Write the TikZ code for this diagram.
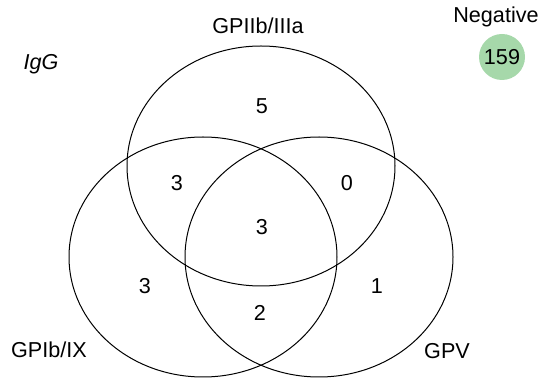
\documentclass[tikz,border=0pt]{standalone}
\usepackage{fontspec}
\setmainfont{Liberation Sans}
\usepackage{tikz}
\usetikzlibrary{shapes.geometric}
\definecolor{neggreen}{RGB}{166,216,170}

\begin{document}
\begin{tikzpicture}[x=0.5pt, y=-0.5pt, line width=0.5pt,
  font=\fontsize{10.8}{13}\selectfont,
  venn/.style={draw, ellipse, minimum width=134pt, minimum height=120pt, inner sep=0pt}]
\useasboundingbox (0,0) rectangle (552,379);
% the three sets
\node[venn] (gp2b) at (261,166) {};
\node[venn] (gp1b) at (203,257) {};
\node[venn] (gpv) at (319,257) {};
% set names
\node (lab2b) at (258,26) {GPIIb/IIIa};
\node (lab1b) at (49,350) {GPIb/IX};
\node (labv) at (447,351) {GPV};
\node (igg) at (41,64) {\itshape IgG};
% counts in each region
\node (only2b) at (262,106) {5};
\node (c12) at (177,183) {3};
\node (c2v) at (347,183) {0};
\node (call) at (262,227) {3};
\node (only1b) at (145,286) {3};
\node (onlyv) at (377,286) {1};
\node (c1v) at (260,313) {2};
% outside all sets
\node (labneg) at (496,17) {Negative};
\node[circle, fill=neggreen, minimum size=23pt, inner sep=0pt] (neg) at (502,57) {159};
\end{tikzpicture}
\end{document}
